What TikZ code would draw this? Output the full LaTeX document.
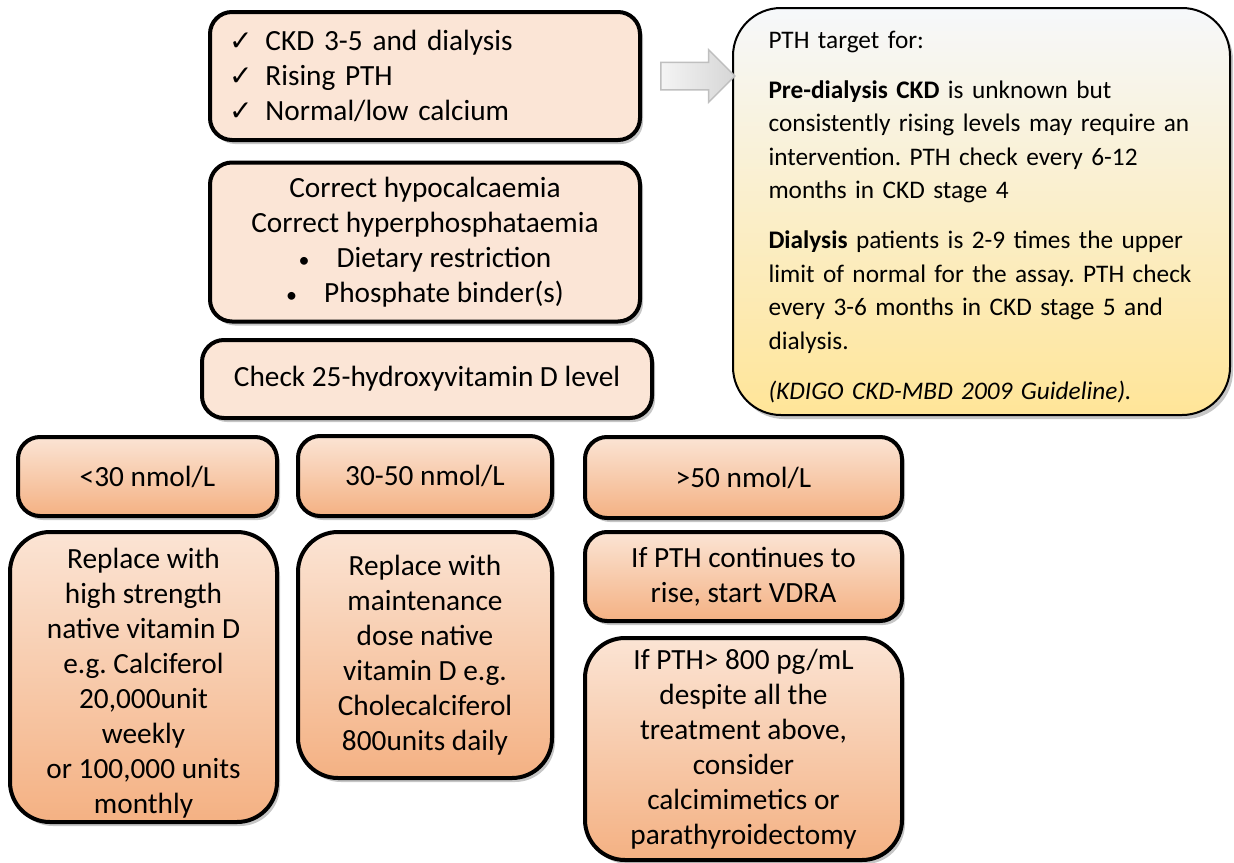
\documentclass[tikz,border=0pt]{standalone}
\usepackage{fontspec}
\setmainfont{Carlito}
\newfontfamily\symfont{DejaVu Sans}
\usetikzlibrary{shadows,shapes.arrows}
\frenchspacing

\definecolor{peach}{RGB}{251,229,214}
\definecolor{peachtop}{RGB}{251,228,212}
\definecolor{orangebot}{RGB}{244,177,131}
\definecolor{notetop}{RGB}{246,248,251}
\definecolor{notebot}{RGB}{255,229,152}

\tikzset{every picture/.style={line width=0.75pt}}
\tikzset{
  stepbox/.style={draw=black, line width=4pt, rounded corners=22pt, align=center,
    inner sep=0pt, outer sep=0pt,
    font=\fontsize{29.3}{35}\selectfont,
    drop shadow={shadow xshift=3pt, shadow yshift=-4pt, opacity=0.45}},
  plainbox/.style={stepbox, fill=peach},
  levelbox/.style={stepbox, top color=peachtop, bottom color=orangebot},
  notebox/.style={draw=black, line width=2pt, rounded corners=48pt, align=left,
    inner sep=0pt, outer sep=0pt, top color=notetop, bottom color=notebot,
    font=\fontsize{25.3}{33.5}\selectfont,
    drop shadow={shadow xshift=3pt, shadow yshift=-4pt, opacity=0.45}},
  greyarrow/.style={single arrow, draw={rgb,255:red,191;green,191;blue,191},
    line width=1.5pt, left color={rgb,255:red,244;green,244;blue,244},
    right color={rgb,255:red,214;green,214;blue,214},
    inner xsep=0pt, inner ysep=13pt, outer sep=0pt,
    single arrow head extend=12.5pt, minimum height=74pt}
}

\newcommand{\tick}{{\symfont\fontsize{28}{35}\selectfont ✓}\hspace{13pt}}
\newcommand{\dotitem}{{\fontsize{22}{35}\selectfont\textbullet}\hspace{27pt}}

\begin{document}
\begin{tikzpicture}[x=1pt,y=1pt,yscale=-1,xscale=1]
\useasboundingbox (0,0) rectangle (1234,862);

%Shape: Rounded Rect [criteria]
\node [plainbox, minimum width=430pt, minimum height=128pt, text width=392pt, align=left] (crit) at (425,76)
  {\tick CKD 3-5 and dialysis\\ \tick Rising PTH\\ \tick Normal/low calcium};
%Shape: Rounded Rect [correction]
\node [plainbox, minimum width=430pt, minimum height=159pt] (corr) at (425,242)
  {Correct hypocalcaemia\\ Correct hyperphosphataemia\\ \dotitem Dietary restriction\\ \dotitem Phosphate binder(s)};
%Shape: Rounded Rect [vitamin D check]
\node [plainbox, minimum width=450pt, minimum height=78pt] (vitd) at (427,379)
  {Check 25-hydroxyvitamin D level};

%Shape: Rounded Rect [levels]
\node [levelbox, minimum width=259pt, minimum height=79pt] (low) at (147.5,476.5) {<30 nmol/L};
\node [levelbox, minimum width=254pt, minimum height=80pt] (mid) at (425,476) {30-50 nmol/L};
\node [levelbox, minimum width=317pt, minimum height=81pt] (high) at (743.5,477.5) {>50 nmol/L};

%Shape: Rounded Rect [treatments]
\node [levelbox, rounded corners=40pt, minimum width=267pt, minimum height=290pt] (lowtx) at (143.5,677)
  {\rule{0pt}{33pt}Replace with\\ high strength\\ native vitamin D\\ e.g. Calciferol\\ 20,000unit\\ weekly\\ or 100,000 units\\ monthly};
\node [levelbox, rounded corners=40pt, minimum width=254pt, minimum height=246pt] (midtx) at (425,655)
  {Replace with\\ maintenance\\ dose native\\ vitamin D e.g.\\ Cholecalciferol\\ 800units daily};
\node [levelbox, minimum width=317pt, minimum height=89pt] (vdra) at (743.5,576.5)
  {If PTH continues to\\ rise, start VDRA};
\node [levelbox, rounded corners=40pt, minimum width=317pt, minimum height=222pt] (calc) at (743.5,749)
  {If PTH> 800 pg/mL\\ despite all the\\ treatment above,\\ consider\\ calcimimetics or\\ parathyroidectomy};

%Shape: Rounded Rect [PTH target note]
\node [notebox, minimum width=497pt, minimum height=407pt, text width=426pt] (target) at (981.5,211.5)
  {\rule{0pt}{28pt}PTH target for:\\[16.5pt]
   \textbf{Pre-dialysis CKD} is unknown but\\ consistently rising levels may require an\\ intervention. PTH check every 6-12\\ months in CKD stage 4\\[16.5pt]
   \textbf{Dialysis} patients is 2-9 times the upper\\ limit of normal for the assay. PTH check\\ every 3-6 months in CKD stage 5 and\\ dialysis.\\[16.5pt]
   \textit{(KDIGO CKD-MBD 2009 Guideline).}};

%Shape: Right Arrow
\node [greyarrow] (arr) at (691,76) {};

\end{tikzpicture}
\end{document}
